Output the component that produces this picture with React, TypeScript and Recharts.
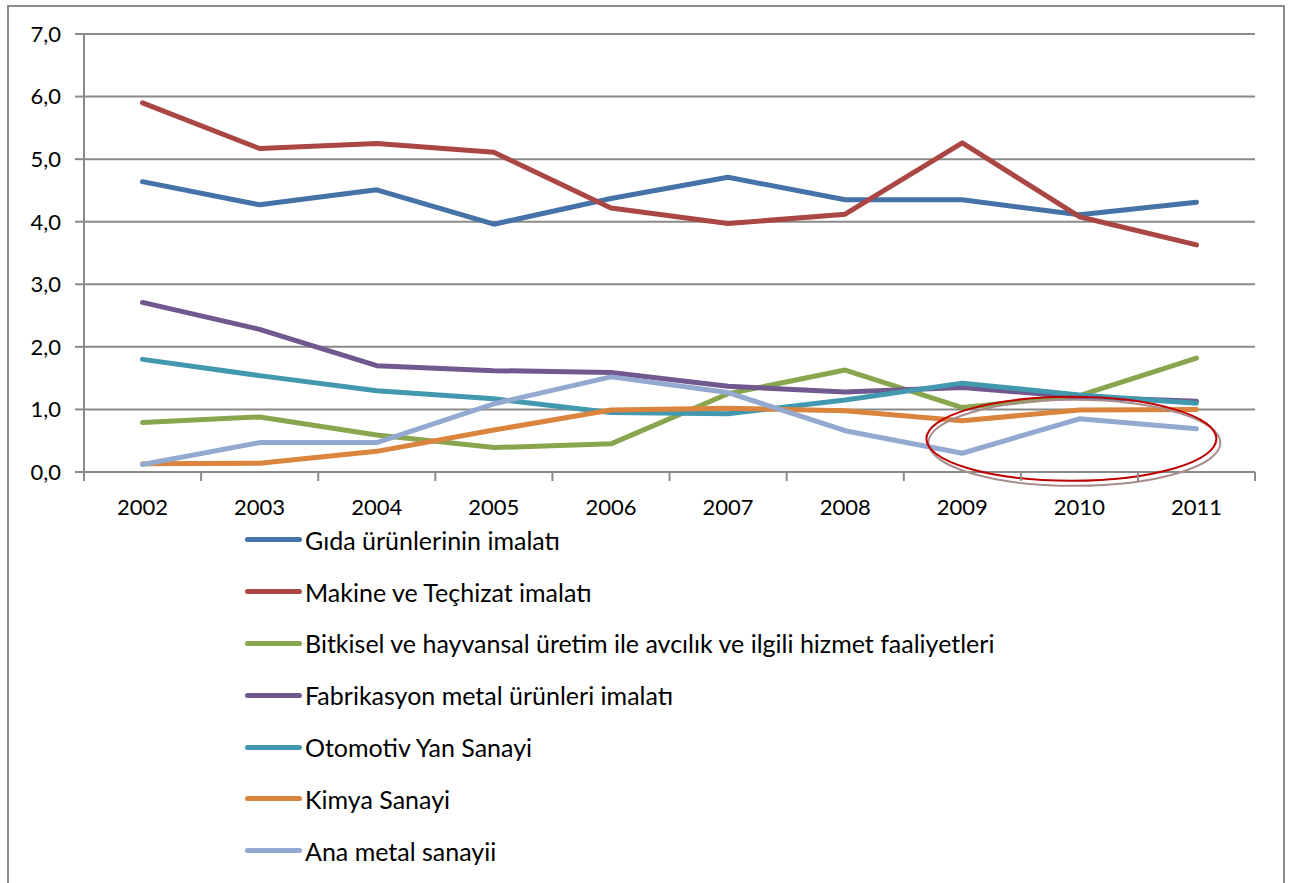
import React from 'react';
import { LineChart, Line, XAxis, YAxis, CartesianGrid, ReferenceDot } from 'recharts';

const years = ['2002', '2003', '2004', '2005', '2006', '2007', '2008', '2009', '2010', '2011'];
const yTicks = [0, 1, 2, 3, 4, 5, 6, 7];

const gida = [4.64, 4.27, 4.51, 3.96, 4.37, 4.71, 4.35, 4.35, 4.11, 4.31];
const makine = [5.9, 5.17, 5.25, 5.11, 4.22, 3.97, 4.12, 5.26, 4.08, 3.63];
const bitkisel = [0.79, 0.88, 0.59, 0.39, 0.45, 1.25, 1.63, 1.03, 1.22, 1.82];
const fabrikasyon = [2.71, 2.28, 1.7, 1.62, 1.59, 1.37, 1.28, 1.35, 1.2, 1.13];
const otomotiv = [1.8, 1.54, 1.3, 1.17, 0.95, 0.93, 1.15, 1.42, 1.23, 1.1];
const kimya = [0.13, 0.14, 0.33, 0.67, 0.99, 1.02, 0.98, 0.82, 0.99, 1.0];
const anaMetal = [0.12, 0.47, 0.47, 1.09, 1.52, 1.27, 0.66, 0.3, 0.85, 0.69];

const series = [
  { key: 'gida', name: 'Gıda ürünlerinin imalatı', color: '#4572A7', values: gida },
  { key: 'makine', name: 'Makine ve Teçhizat imalatı', color: '#AA4643', values: makine },
  { key: 'bitkisel', name: 'Bitkisel ve hayvansal üretim ile avcılık ve ilgili hizmet faaliyetleri', color: '#89A54E', values: bitkisel },
  { key: 'fabrikasyon', name: 'Fabrikasyon metal ürünleri imalatı', color: '#71588F', values: fabrikasyon },
  { key: 'otomotiv', name: 'Otomotiv Yan Sanayi', color: '#4198AF', values: otomotiv },
  { key: 'kimya', name: 'Kimya Sanayi', color: '#DB843D', values: kimya },
  { key: 'anaMetal', name: 'Ana metal sanayii', color: '#93A9CF', values: anaMetal },
];

const data = years.map((year, i) => {
  const row: any = { year };
  series.forEach((s) => { row[s.key] = s.values[i]; });
  return row;
});

const FONT = 'Lato, "Open Sans", sans-serif';
const GRID = '#8a8a8a';
const HALF_BAND = 58.5;

const YearTick = (props: any) => {
  const { x, y, payload, index, visibleTicksCount } = props;
  const last = index === visibleTicksCount - 1;
  return (
    <g>
      <line x1={x - HALF_BAND} x2={x - HALF_BAND} y1={y} y2={y + 9} stroke={GRID} strokeWidth={2} />
      {last && <line x1={x + HALF_BAND} x2={x + HALF_BAND} y1={y} y2={y + 9} stroke={GRID} strokeWidth={2} />}
      <text x={x} y={y + 43} textAnchor="middle" fill="#000" fontSize={22} fontFamily={FONT}>
        {payload.value}
      </text>
    </g>
  );
};

// red hand-drawn circle around 2009-2011, with its soft shadow
const Circle = (props: any) => {
  const { cx, cy } = props;
  return (
    <g>
      <ellipse cx={cx - 5} cy={cy + 4} rx={146} ry={43} fill="none" stroke="#a98c8c" strokeWidth={2} />
      <ellipse cx={cx - 8} cy={cy} rx={145} ry={42} fill="none" stroke="#C00000" strokeWidth={2} />
    </g>
  );
};

export default function App() {
  return (
    <div style={{ position: 'absolute', left: 0, top: 0, width: 1297, height: 883, overflow: 'hidden', background: '#fff' }}>
      <div style={{ position: 'absolute', left: 7, top: 5, width: 1274, height: 920, border: '2px solid #8c8c8c' }} />
      <div style={{ position: 'absolute', left: 0, top: 0 }}>
        <LineChart width={1297} height={530} data={data} margin={{ top: 34, right: 42, left: 0, bottom: 0 }}>
          <CartesianGrid vertical={false} stroke={GRID} strokeWidth={2} />
          <XAxis
            dataKey="year"
            height={58}
            padding={{ left: HALF_BAND, right: HALF_BAND }}
            axisLine={{ stroke: GRID, strokeWidth: 2 }}
            tickLine={false}
            tickSize={0}
            tickMargin={0}
            interval={0}
            tick={<YearTick />}
          />
          <YAxis
            width={84}
            domain={[0, 7]}
            ticks={yTicks}
            interval={0}
            axisLine={{ stroke: GRID, strokeWidth: 2 }}
            tickLine={{ stroke: GRID, strokeWidth: 2 }}
            tickSize={9}
            tickMargin={14}
            tickFormatter={(v: number) => v.toFixed(1).replace('.', ',')}
            tick={{ fill: '#000', fontSize: 22, fontFamily: FONT }}
          />
          {series.map((s) => (
            <Line
              key={s.key}
              type="linear"
              dataKey={s.key}
              name={s.name}
              stroke={s.color}
              strokeWidth={5}
              strokeLinecap="round"
              strokeLinejoin="round"
              dot={false}
              activeDot={false}
              isAnimationActive={false}
            />
          ))}
          <ReferenceDot x="2010" y={0.53} r={1} ifOverflow="visible" shape={<Circle />} />
        </LineChart>
      </div>
      <div style={{ position: 'absolute', left: 245, top: 514, fontFamily: FONT, fontSize: 25, color: '#000' }}>
        {series.map((s) => (
          <div key={s.key} style={{ display: 'flex', alignItems: 'center', height: 51.8, whiteSpace: 'nowrap' }}>
            <div style={{ width: 57, height: 5, borderRadius: 3, background: s.color, marginRight: 3 }} />
            <span>{s.name}</span>
          </div>
        ))}
      </div>
    </div>
  );
}
